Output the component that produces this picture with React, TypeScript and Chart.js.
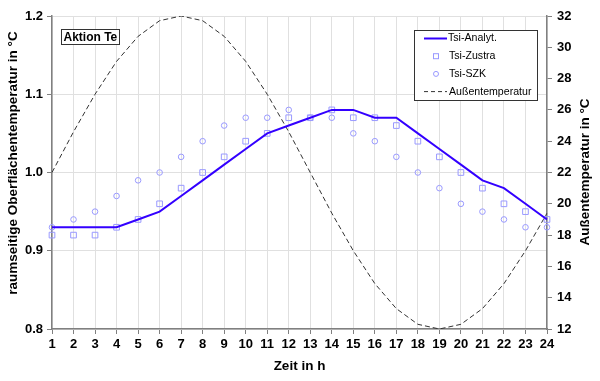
import React, { useEffect, useRef } from "react";
import { Chart, registerables } from "chart.js";

Chart.register(...registerables);

const hours = ["1","2","3","4","5","6","7","8","9","10","11","12","13","14","15","16","17","18","19","20","21","22","23","24"];
const tsiAnalyt = [0.93,0.93,0.93,0.93,0.94,0.95,0.97,0.99,1.01,1.03,1.05,1.06,1.07,1.08,1.08,1.07,1.07,1.05,1.03,1.01,0.99,0.98,0.96,0.94];
const tsiZustra = [0.92,0.92,0.92,0.93,0.94,0.96,0.98,1.00,1.02,1.04,1.05,1.07,1.07,1.08,1.07,1.07,1.06,1.04,1.02,1.00,0.98,0.96,0.95,0.94];
const tsiSZK = [0.93,0.94,0.95,0.97,0.99,1.00,1.02,1.04,1.06,1.07,1.07,1.08,1.07,1.07,1.05,1.04,1.02,1.00,0.98,0.96,0.95,0.94,0.93,0.93];
const aussen = [22.0,24.6,27.0,29.1,30.7,31.7,32.0,31.7,30.7,29.1,27.0,24.6,22.0,19.4,17.0,14.9,13.3,12.3,12.0,12.3,13.3,14.9,17.0,19.4];

const leftTitle = "raumseitige Oberflächentemperatur in °C";
const rightTitle = "Außentemperatur in °C";
const xTitle = "Zeit in h";
const boxLabel = "Aktion Te";

const FONT = "'Liberation Sans', Arial, sans-serif";
const LINE_COLOR = "#3300ff";
const MARK_COLOR = "#9999ff";
const GRID = "#e0e0e0";
const AXIS = "#808080";

const overlayPlugin = {
  id: "overlay",
  afterDraw(chart: any) {
    const ctx = chart.ctx;
    ctx.save();
    // axis titles (both read bottom-to-top)
    ctx.fillStyle = "#000";
    ctx.font = `bold 13.5px ${FONT}`;
    ctx.textAlign = "center";
    ctx.textBaseline = "middle";
    ctx.save();
    ctx.translate(13, 163);
    ctx.rotate(-Math.PI / 2);
    ctx.fillText(leftTitle, 0, 0);
    ctx.restore();
    ctx.save();
    ctx.translate(585, 172);
    ctx.rotate(-Math.PI / 2);
    ctx.fillText(rightTitle, 0, 0);
    ctx.restore();

    // Aktion Te box
    ctx.fillStyle = "#fff";
    ctx.fillRect(61, 29, 58, 15);
    ctx.strokeStyle = "#333";
    ctx.lineWidth = 1;
    ctx.strokeRect(61.5, 29.5, 58, 15);
    ctx.fillStyle = "#000";
    ctx.font = `bold 12px ${FONT}`;
    ctx.textBaseline = "middle";
    ctx.textAlign = "left";
    ctx.fillText(boxLabel, 63.5, 37.5);

    // Legend box
    const lx = 414, ly = 30, lw = 123, lh = 70;
    ctx.fillStyle = "#fff";
    ctx.fillRect(lx, ly, lw, lh);
    ctx.strokeStyle = "#333";
    ctx.strokeRect(lx + 0.5, ly + 0.5, lw, lh);
    ctx.font = `10.6px ${FONT}`;
    const rows = [
      { label: "Tsi-Analyt.", kind: "line" },
      { label: "Tsi-Zustra", kind: "rect" },
      { label: "Tsi-SZK", kind: "circle" },
      { label: "Außentemperatur", kind: "dash" },
    ];
    rows.forEach((r, i) => {
      const y = 38.5 + i * 17.7;
      if (r.kind === "line") {
        ctx.strokeStyle = LINE_COLOR;
        ctx.lineWidth = 2;
        ctx.beginPath();
        ctx.moveTo(424, y);
        ctx.lineTo(447, y);
        ctx.stroke();
      } else if (r.kind === "rect") {
        ctx.strokeStyle = MARK_COLOR;
        ctx.lineWidth = 1;
        ctx.strokeRect(433.5, y - 2.5, 5, 5);
      } else if (r.kind === "circle") {
        ctx.strokeStyle = MARK_COLOR;
        ctx.lineWidth = 1;
        ctx.beginPath();
        ctx.arc(436, y, 2.5, 0, Math.PI * 2);
        ctx.stroke();
      } else {
        ctx.strokeStyle = "#333";
        ctx.lineWidth = 1;
        ctx.setLineDash([4, 3]);
        ctx.beginPath();
        ctx.moveTo(424, y);
        ctx.lineTo(447, y);
        ctx.stroke();
        ctx.setLineDash([]);
      }
      ctx.fillStyle = "#000";
      ctx.fillText(r.label, r.kind === "line" ? 448 : 449, y);
    });
    ctx.restore();
  },
};

export default function App() {
  const ref = useRef<HTMLCanvasElement>(null);
  useEffect(() => {
    if (!ref.current) return;
    const tickFont = { family: FONT, size: 13, weight: "bold" as const };
    const chart = new Chart(ref.current, {
      type: "line",
      data: {
        labels: hours,
        datasets: [
          {
            label: "Außentemperatur",
            data: aussen,
            yAxisID: "y1",
            borderColor: "#333",
            borderWidth: 1,
            borderDash: [5, 3],
            pointRadius: 0,
            fill: false,
            order: 4,
          },
          {
            label: "Tsi-Zustra",
            data: tsiZustra,
            yAxisID: "y",
            showLine: false,
            pointStyle: "rect",
            pointRadius: 4,
            borderColor: MARK_COLOR,
            backgroundColor: "rgba(0,0,0,0)",
            pointBorderWidth: 1,
            order: 3,
          },
          {
            label: "Tsi-SZK",
            data: tsiSZK,
            yAxisID: "y",
            showLine: false,
            pointStyle: "circle",
            pointRadius: 2.8,
            borderColor: MARK_COLOR,
            backgroundColor: "rgba(0,0,0,0)",
            pointBorderWidth: 1,
            order: 2,
          },
          {
            label: "Tsi-Analyt.",
            data: tsiAnalyt,
            yAxisID: "y",
            borderColor: LINE_COLOR,
            borderWidth: 2,
            pointRadius: 0,
            fill: false,
            order: 1,
          },
        ],
      },
      options: {
        animation: false,
        responsive: false,
        layout: { padding: { top: 16, left: 0, right: 0, bottom: 0 } },
        plugins: { legend: { display: false }, tooltip: { enabled: false } },
        scales: {
          x: {
            type: "category",
            offset: false,
            grid: { color: GRID, tickColor: AXIS, tickLength: 5 },
            border: { color: AXIS, width: 1.5 },
            ticks: { color: "#000", font: tickFont, maxRotation: 0, autoSkip: false, padding: 3 },
            title: { display: true, text: xTitle, color: "#000", font: { family: FONT, size: 13.5, weight: "bold" }, padding: { top: 4, bottom: 7 } },
            afterFit(s: any) { s.height = 52; },
          },
          y: {
            position: "left",
            min: 0.8,
            max: 1.2,
            ticks: { stepSize: 0.1, color: "#000", font: tickFont, callback: (v: any) => Number(v).toFixed(1), padding: 4 },
            grid: { color: GRID, tickColor: AXIS, tickLength: 5 },
            border: { color: AXIS, width: 1.5 },
            title: { display: false },
            afterFit(s: any) { s.width = 52; },
          },
          y1: {
            position: "right",
            min: 12,
            max: 32,
            ticks: { stepSize: 2, color: "#000", font: tickFont, padding: 5 },
            grid: { drawOnChartArea: false, tickColor: AXIS, tickLength: 5 },
            border: { color: AXIS, width: 1.5 },
            title: { display: false },
            afterFit(s: any) { s.width = 53; },
          },
        },
      },
      plugins: [overlayPlugin],
    });
    return () => chart.destroy();
  }, []);
  return (
    <div style={{ position: "fixed", left: 0, top: 0, width: 600, height: 381, background: "#fff" }}>
      <canvas ref={ref} width={600} height={381} />
    </div>
  );
}
